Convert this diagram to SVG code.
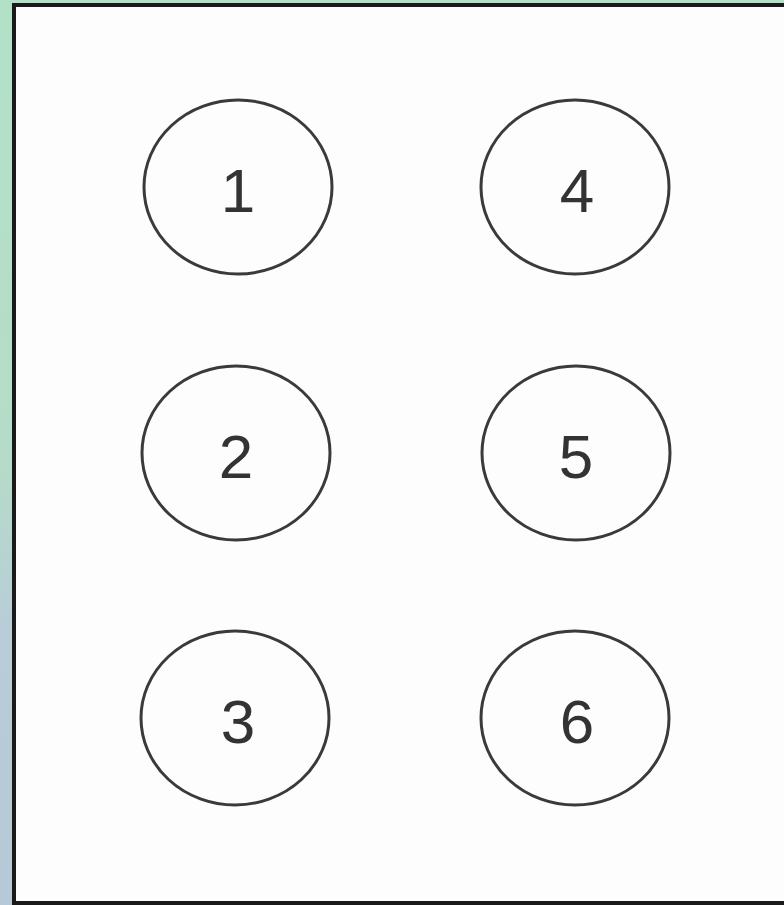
<svg xmlns="http://www.w3.org/2000/svg" width="784" height="905" viewBox="0 0 784 905">
<defs>
<linearGradient id="bg" x1="0" y1="0" x2="0" y2="1">
<stop offset="0" stop-color="#b3e1c8"/>
<stop offset="0.5" stop-color="#b5dcc8"/>
<stop offset="0.7" stop-color="#b8cdd8"/>
<stop offset="1" stop-color="#b6c9d6"/>
</linearGradient>
<style>
.node ellipse{fill:none;stroke:#3a3a3a;stroke-width:3}
.node text{font-family:"Liberation Sans",Arial,sans-serif;font-size:62px;fill:#333;text-anchor:middle;dominant-baseline:central}
</style>
</defs>
<rect x="0" y="0" width="784" height="905" fill="url(#bg)"/>
<rect x="14" y="5" width="790" height="898" fill="#fdfdfd" stroke="#1a1a1a" stroke-width="4"/>
<g id="connectors"></g>
<g id="node1" class="node"><ellipse cx="238" cy="187" rx="94" ry="87"/><text x="238" y="190">1</text></g>
<g id="node2" class="node"><ellipse cx="236" cy="453" rx="94" ry="87"/><text x="236" y="456">2</text></g>
<g id="node3" class="node"><ellipse cx="235" cy="718" rx="94" ry="87"/><text x="238" y="721">3</text></g>
<g id="node4" class="node"><ellipse cx="575" cy="187" rx="94" ry="87"/><text x="577" y="190">4</text></g>
<g id="node5" class="node"><ellipse cx="576" cy="453" rx="94" ry="87"/><text x="576" y="456">5</text></g>
<g id="node6" class="node"><ellipse cx="575" cy="718" rx="94" ry="87"/><text x="577" y="721">6</text></g>
</svg>
